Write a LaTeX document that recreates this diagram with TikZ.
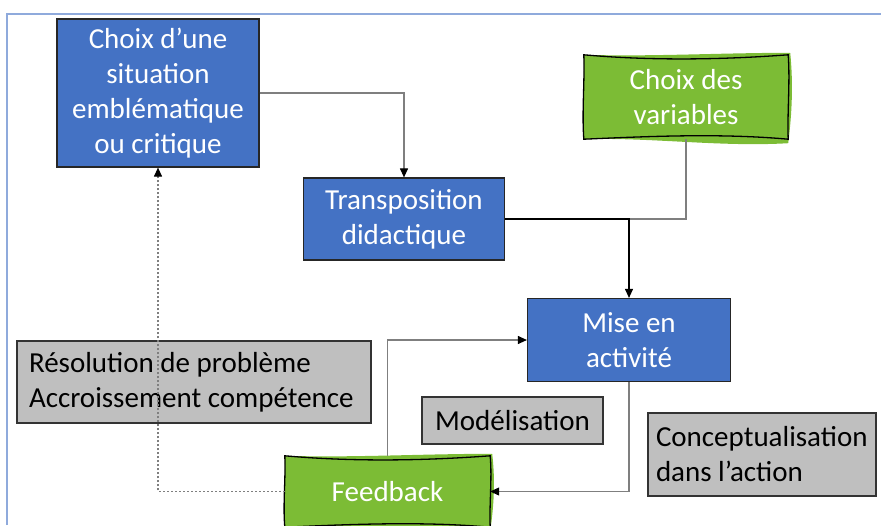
\documentclass[tikz,border=0pt]{standalone}
\usepackage{fontspec}
\setmainfont{Carlito}
\usetikzlibrary{arrows.meta,calc,backgrounds}
\definecolor{boxblue}{HTML}{4472C4}
\definecolor{boxgreen}{HTML}{7CBC35}
\definecolor{boxgrey}{HTML}{BFBFBF}
\definecolor{linegrey}{HTML}{7F7F7F}
\definecolor{framecol}{HTML}{8FAADC}
\newcommand\sketchoutline[1]{%
  \begin{scope}[on background layer]
    \fill[boxgreen] (#1.north west)
      .. controls ($(#1.north west)!0.33!(#1.north east)+(0,2)$) and ($(#1.north west)!0.67!(#1.north east)+(0,-2)$) .. ($(#1.north east)+(2,-2)$)
      .. controls ($(#1.north east)!0.33!(#1.south east)+(5,0)$) and ($(#1.north east)!0.67!(#1.south east)+(4,0)$) .. ($(#1.south east)+(0,4)$)
      .. controls ($(#1.south east)!0.33!(#1.south west)+(0,8)$) and ($(#1.south east)!0.67!(#1.south west)+(0,-2)$) .. (#1.south west)
      .. controls ($(#1.south west)!0.33!(#1.north west)+(-2,0)$) and ($(#1.south west)!0.67!(#1.north west)+(1,0)$) .. cycle;
    \draw[black, line width=1.3pt] (#1.north west)
      .. controls ($(#1.north west)!0.33!(#1.north east)+(0,6)$) and ($(#1.north west)!0.67!(#1.north east)+(0,5)$) .. (#1.north east)
      .. controls ($(#1.north east)!0.33!(#1.south east)+(2,0)$) and ($(#1.north east)!0.67!(#1.south east)+(-1,0)$) .. (#1.south east)
      .. controls ($(#1.south east)!0.33!(#1.south west)+(0,-6)$) and ($(#1.south east)!0.67!(#1.south west)+(0,-3)$) .. (#1.south west)
      .. controls ($(#1.south west)!0.33!(#1.north west)+(-2,0)$) and ($(#1.south west)!0.67!(#1.north west)+(1,0)$) .. cycle;
  \end{scope}}
\tikzset{
  txt/.style={font=\fontsize{29}{35}\selectfont},
  bluebox/.style={txt, draw=black!85, line width=1.2pt, fill=boxblue, text=white, align=center, inner sep=0pt},
  greybox/.style={txt, draw=black!80, line width=1.2pt, fill=boxgrey, text=black, align=flush left, inner sep=0pt},
  greenbox/.style={txt, text=white, align=center, inner sep=0pt},
  tip/.style={-{Triangle[length=9pt,width=8pt,color=black]}},
  conn/.style={linegrey, line width=1.1pt, tip},
}
\begin{document}
\begin{tikzpicture}[x=1pt,y=-1pt]
\useasboundingbox (0,0) rectangle (881,525);
\draw[framecol, line width=1.2pt] (7,525) -- (7,14) -- (881,14);

\node[bluebox, minimum width=202pt, minimum height=148pt] (sit) at (158,93) {Choix d’une\\situation\\emblématique\\ou critique};
\node[bluebox, minimum width=201pt, minimum height=82pt] (tra) at (404,219) {Transposition\\didactique};
\node[bluebox, minimum width=203pt, minimum height=83pt] (mise) at (629,340) {Mise en\\activité};
\node[greenbox, minimum width=204pt, minimum height=84pt] (var) at (686,97) {Choix des\\variables};
\node[greenbox, minimum width=205pt, minimum height=71pt] (fb) at (387.5,491.5) {Feedback};
\sketchoutline{var}
\sketchoutline{fb}

\node[greybox, minimum height=82pt, text width=330pt, inner xsep=12pt] (res) at (194,382) {Résolution de problème\\Accroissement compétence};
\node[greybox, align=center, minimum width=181pt, minimum height=47pt] (mod) at (512.5,420.5) {Modélisation};
\node[greybox, minimum height=83pt, text width=212pt, inner xsep=8pt] (con) at (762,454.5) {Conceptualisation\\dans l’action};

\draw[conn] (sit.east) -| (tra.north);
\draw[linegrey, line width=1.1pt] (var.south) |- (mise.north |- tra.east);
\draw[black, line width=1.1pt, tip] (tra.east) -| (mise.north);
\draw[conn] (mise.south) |- (fb.east);
\draw[conn] (fb.north) |- (mise.west);
\draw[conn, dash pattern=on 2pt off 2pt] (fb.west) -| (sit.south);
\end{tikzpicture}
\end{document}
